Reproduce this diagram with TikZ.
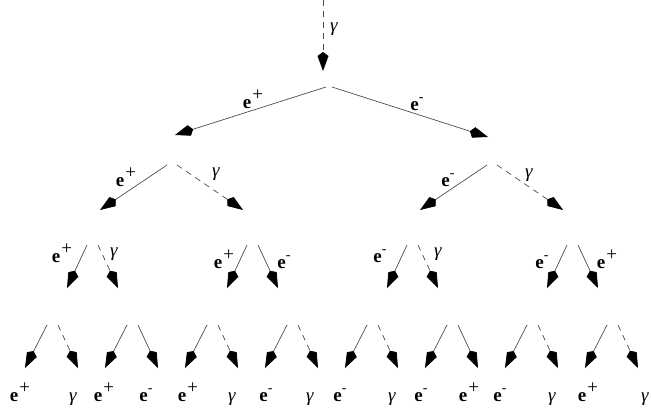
\documentclass[tikz,border=0pt]{standalone}
\usepackage{fontspec}
\setmainfont{Liberation Serif}
\newfontfamily\lblfont{Liberation Serif}
\usetikzlibrary{arrows.meta}
\newcommand{\posi}{\textbf{e}\kern1pt\raisebox{0.4em}{+}}
\newcommand{\elec}{\textbf{e}\raisebox{0.45em}{\fontsize{14}{14}\selectfont -}}
\newcommand{\phot}{\textit{γ}}
\tikzset{
  fermion/.style={line width=0.7pt, draw=black!70, -{Kite[length=19pt,width=11pt,inset=4pt,color=black]}},
  photon/.style={fermion, dash pattern=on 6pt off 5pt},
  lbl/.style={font=\lblfont\fontsize{19}{19}\selectfont, anchor=base, inner sep=0pt},
}

\begin{document}
\begin{tikzpicture}[x=1pt,y=-1pt]
  \useasboundingbox (0,0) rectangle (651,415);
  \clip (0,0) rectangle (651,415);
  % incoming photon
  \coordinate (g0) at (323,0); \coordinate (g1) at (323,71);
  \draw[photon] (g0) -- (g1);
  \node[lbl] (lg) at (334,31) {\phot};
  % first splitting
  \coordinate (v1l) at (326,87); \coordinate (v1r) at (332,87);
  \coordinate (p1) at (175,135); \coordinate (m1) at (488,137);
  \draw[fermion] (v1l) -- (p1); \draw[fermion] (v1r) -- (m1);
  \node[lbl] (lp1) at (253,108) {\posi}; \node[lbl] (lm1) at (417,110) {\elec};
  % second level
  \coordinate (v2a) at (167,165); \coordinate (v2b) at (177,165);
  \coordinate (v2c) at (487,165); \coordinate (v2d) at (497,165);
  \coordinate (e2a) at (100,210); \coordinate (e2b) at (243,210);
  \coordinate (e2c) at (420,210); \coordinate (e2d) at (563,210);
  \draw[fermion] (v2a) -- (e2a); \draw[photon] (v2b) -- (e2b);
  \draw[fermion] (v2c) -- (e2c); \draw[photon] (v2d) -- (e2d);
  \node[lbl] (l2a) at (126,186) {\posi}; \node[lbl] (l2b) at (216,176) {\phot};
  \node[lbl] (l2c) at (448,186) {\elec}; \node[lbl] (l2d) at (529,177) {\phot};
  % third level
  \foreach \x/\s in {87/photon,247/fermion,407/photon,567/fermion}{
    \coordinate (a3\x) at (\x,245); \coordinate (b3\x) at ({\x-20},288);
    \coordinate (c3\x) at ({\x+11},245); \coordinate (d3\x) at ({\x+31},288);
    \draw[fermion] (a3\x) -- (b3\x); \draw[\s] (c3\x) -- (d3\x);
  }
  \node[lbl] (l3a) at (62,262) {\posi}; \node[lbl] (l3b) at (114,256) {\phot};
  \node[lbl] (l3c) at (224,268) {\posi}; \node[lbl] (l3d) at (284,268) {\elec};
  \node[lbl] (l3e) at (380,262) {\elec}; \node[lbl] (l3f) at (438,256) {\phot};
  \node[lbl] (l3g) at (542,268) {\elec}; \node[lbl] (l3h) at (607,268) {\posi};
  % fourth level
  \foreach \x/\s in {47/photon,127/fermion,207/photon,287/photon,367/photon,447/fermion,527/photon,607/photon}{
    \coordinate (a4\x) at (\x,325); \coordinate (b4\x) at ({\x-22},368);
    \coordinate (c4\x) at ({\x+11},325); \coordinate (d4\x) at ({\x+31},368);
    \draw[fermion] (a4\x) -- (b4\x); \draw[\s] (c4\x) -- (d4\x);
  }
  \foreach \x/\t [count=\i] in {20/\posi,73/\phot,104/\posi,146/\elec,188/\posi,232/\phot,266/\elec,310/\phot,
      340/\elec,392/\phot,421/\elec,469/\posi,500/\elec,552/\phot,588/\posi,645/\phot}
    \node[lbl] (f\i) at (\x,401) {\t};
\end{tikzpicture}
\end{document}
